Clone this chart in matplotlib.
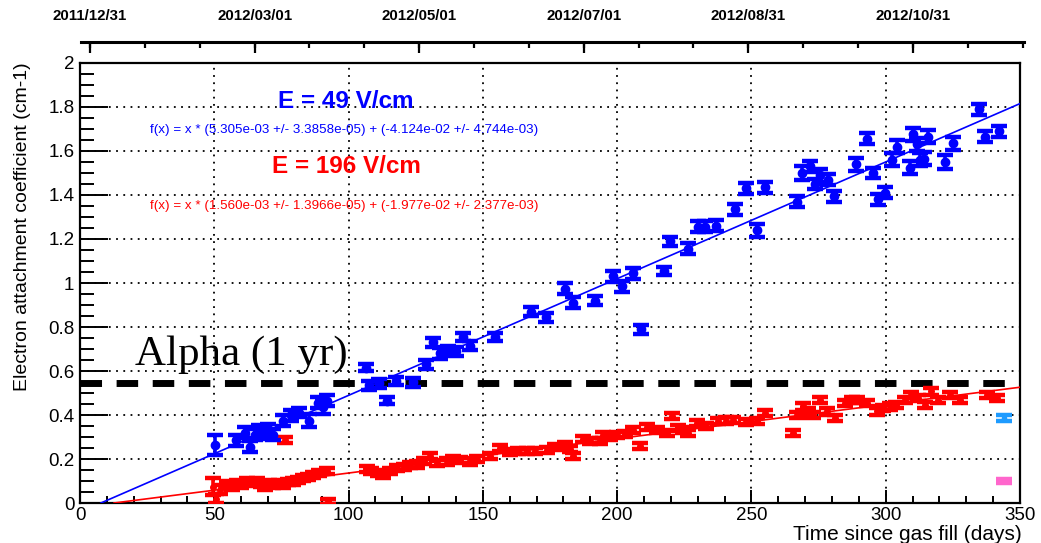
import numpy as np
import matplotlib.pyplot as plt
from matplotlib.ticker import MultipleLocator, FixedLocator

plt.rcParams['font.family'] = ['Liberation Sans', 'DejaVu Sans']

# E = 49 V/cm points: day, coefficient, error
blue_x = [50.3, 58.0, 61.5, 63.3, 65.0, 66.5, 68.5, 70.0, 71.8, 75.5, 78.5, 81.5,
          85.2, 88.5, 90.3, 91.8, 106.5, 107.5, 111.5, 114.2, 117.5, 124.0, 129.0,
          131.5, 134.0, 137.0, 140.0, 142.7, 145.2, 154.5, 167.8, 173.5, 180.6,
          183.4, 191.7, 198.6, 201.7, 205.8, 208.7, 217.4, 219.7, 226.5, 230.2,
          232.7, 236.8, 243.9, 247.9, 251.9, 255.0, 266.8, 268.7, 271.8, 273.6,
          275.5, 278.6, 280.7, 288.8, 292.9, 295.1, 297.2, 299.7, 302.2, 304.1,
          309.0, 310.0, 311.5, 312.7, 314.2, 315.8, 322.0, 325.1, 334.8, 336.9, 342.3]
blue_y = [0.265, 0.285, 0.32, 0.255, 0.31, 0.33, 0.315, 0.335, 0.31, 0.375, 0.40, 0.41,
          0.375, 0.455, 0.435, 0.465, 0.615, 0.535, 0.545, 0.465, 0.555, 0.548, 0.63,
          0.73, 0.68, 0.695, 0.69, 0.755, 0.715, 0.755, 0.87, 0.845, 0.975,
          0.91, 0.92, 1.03, 0.985, 1.045, 0.79, 1.055, 1.19, 1.155, 1.255,
          1.255, 1.26, 1.335, 1.43, 1.24, 1.435, 1.37, 1.50, 1.53, 1.45,
          1.49, 1.47, 1.395, 1.54, 1.655, 1.50, 1.38, 1.41, 1.56, 1.62,
          1.525, 1.675, 1.63, 1.56, 1.565, 1.665, 1.55, 1.635, 1.79, 1.665, 1.69]
blue_err = [0.045, 0.025, 0.025, 0.025, 0.025, 0.025, 0.025, 0.025, 0.025, 0.025, 0.025, 0.02,
            0.03, 0.025, 0.03, 0.025, 0.015, 0.02, 0.02, 0.015, 0.02, 0.02, 0.02,
            0.02, 0.025, 0.02, 0.02, 0.02, 0.02, 0.02, 0.02, 0.02, 0.025,
            0.025, 0.02, 0.025, 0.025, 0.025, 0.02, 0.02, 0.02, 0.025, 0.025,
            0.025, 0.025, 0.025, 0.025, 0.03, 0.025, 0.025, 0.03, 0.025, 0.025,
            0.03, 0.025, 0.025, 0.03, 0.025, 0.025, 0.025, 0.025, 0.03, 0.03,
            0.03, 0.03, 0.03, 0.03, 0.03, 0.03, 0.03, 0.03, 0.025, 0.025, 0.025]

# E = 196 V/cm points
red_x = [49.5, 50.5, 52.0, 54.6, 56.5, 58.3, 60.0, 62.0, 64.0, 65.8, 67.5, 68.9, 70.5,
         72.0, 74.0, 75.7, 76.3, 77.5, 79.4, 81.0, 83.1, 85.0, 86.9, 89.0, 91.8, 92.4,
         106.7, 108.5, 111.0, 113.0, 115.5, 118.0, 120.5, 123.0, 125.5, 128.0, 130.3,
         132.8, 136.5, 139.0, 141.5, 145.2, 148.0, 152.6, 156.4, 160.0, 163.0, 166.3,
         169.5, 173.7, 177.0, 180.6, 182.5, 183.7, 187.4, 190.0, 193.6, 194.8, 197.5,
         199.8, 203.0, 206.0, 208.5, 211.0, 215.0, 218.4, 220.3, 222.5, 224.6, 226.5,
         229.6, 233.0, 237.6, 240.5, 243.2, 248.0, 251.9, 255.0, 265.6, 266.8, 269.3,
         271.0, 273.0, 275.5, 278.0, 281.1, 285.0, 287.3, 289.2, 292.9, 296.6, 299.0,
         301.5, 304.0, 307.0, 309.6, 312.1, 314.6, 317.0, 319.5, 323.8, 327.6, 337.6, 341.3]
red_y = [0.075, 0.02, 0.06, 0.083, 0.075, 0.09, 0.08, 0.098, 0.09, 0.098, 0.085, 0.072, 0.09,
         0.083, 0.09, 0.08, 0.287, 0.095, 0.098, 0.105, 0.114, 0.12, 0.129, 0.135, 0.144, 0.007,
         0.155, 0.145, 0.135, 0.128, 0.145, 0.159, 0.165, 0.171, 0.175, 0.19, 0.212,
         0.182, 0.189, 0.20, 0.197, 0.189, 0.20, 0.212, 0.25, 0.23, 0.235, 0.235,
         0.235, 0.242, 0.255, 0.262, 0.245, 0.212, 0.29, 0.28, 0.28, 0.31, 0.30,
         0.31, 0.315, 0.333, 0.26, 0.345, 0.33, 0.318, 0.394, 0.34, 0.333, 0.318,
         0.364, 0.35, 0.371, 0.375, 0.379, 0.37, 0.371, 0.409, 0.32, 0.401, 0.439,
         0.42, 0.401, 0.47, 0.416, 0.386, 0.455, 0.47, 0.47, 0.455, 0.416, 0.43,
         0.439, 0.447, 0.47, 0.492, 0.477, 0.447, 0.507, 0.47, 0.492, 0.47, 0.492, 0.477]
red_err = [0.04, 0.02, 0.02, 0.016, 0.016, 0.016] + [0.014] * 19 + [0.01] + [0.014] * 78

# extra single points at the right edge
cyan_x, cyan_y, cyan_err = [344.1], [0.386], [0.012]
pink_x, pink_y, pink_err = [344.1], [0.101], [0.008]

# linear fits (slope, intercept)
blue_fit = (5.305e-03, -4.124e-02)
red_fit = (1.560e-03, -1.977e-02)
alpha_level = 0.545

date_labels = ['2011/12/31', '2012/03/01', '2012/05/01', '2012/07/01', '2012/08/31', '2012/10/31']
date_days = [0, 61, 122, 183, 244, 305]
day0, day_scale = 3.72, 1.0046   # top axis: day of 2011/12/31 on the bottom axis, stretch

W, H = 1041, 543
fig = plt.figure(figsize=(W / 100, H / 100), dpi=100)
ax = fig.add_axes([80 / W, 40 / H, 940 / W, 440 / H])
ax.set_xlim(0, 350)
ax.set_ylim(0, 2)

ax.grid(which='major', color='k', ls=(0, (1, 3)), lw=1.3)
ax.set_axisbelow(True)

ax.axhline(alpha_level, color='k', lw=5, ls=(0, (3.1, 2.1)), zorder=2)

for (m, b), c in [(blue_fit, 'blue'), (red_fit, 'red')]:
    xs = np.array([-b / m, 350])
    ax.plot(xs, m * xs + b, color=c, lw=1.2, zorder=3)

ekw = dict(fmt='o', elinewidth=2.6, capthick=3.2, capsize=6, zorder=4)
ax.errorbar(red_x, red_y, yerr=red_err, color='red', ms=4, **ekw)
ax.errorbar(blue_x, blue_y, yerr=blue_err, color='blue', ms=6, **ekw)
ax.errorbar(cyan_x, cyan_y, yerr=cyan_err, color='#1e9bff', ms=3, **ekw)
ax.errorbar(pink_x, pink_y, yerr=pink_err, color='#ff66cc', ms=2, **ekw)

ax.xaxis.set_major_locator(MultipleLocator(50))
ax.xaxis.set_minor_locator(MultipleLocator(10))
ax.yaxis.set_minor_locator(MultipleLocator(0.05))
ax.set_yticks(np.arange(0, 2.01, 0.2), ['0', '0.2', '0.4', '0.6', '0.8', '1', '1.2', '1.4', '1.6', '1.8', '2'])
ax.tick_params(axis='x', which='major', direction='in', length=9.5, width=1.4, labelsize=13.5, pad=3)
ax.tick_params(axis='x', which='minor', direction='in', length=4.7, width=1.4)
ax.tick_params(axis='y', which='major', direction='in', length=20, width=1.4, labelsize=13.5, pad=4)
ax.tick_params(axis='y', which='minor', direction='in', length=10, width=1.4)
for s in ax.spines.values():
    s.set_linewidth(1.6)

ax.text(0.283, 0.912, 'E = 49 V/cm', transform=ax.transAxes, color='blue',
        fontsize=17.5, fontweight='bold', ha='center', va='center')
ax.text(0.281, 0.848, 'f(x) = x * (5.305e-03 +/- 3.3858e-05) + (-4.124e-02 +/- 4.744e-03)',
        transform=ax.transAxes, color='blue', fontsize=9.6, ha='center', va='center')
ax.text(0.283, 0.764, 'E = 196 V/cm', transform=ax.transAxes, color='red',
        fontsize=17.5, fontweight='bold', ha='center', va='center')
ax.text(0.281, 0.676, 'f(x) = x * (1.560e-03 +/- 1.3966e-05) + (-1.977e-02 +/- 2.377e-03)',
        transform=ax.transAxes, color='red', fontsize=9.6, ha='center', va='center')
ax.text(20.5, 0.629, 'Alpha (1 yr)', family='Liberation Serif', fontsize=31,
        ha='left', va='baseline', zorder=5)

# date axis above the frame: line at y=42 px, ticks hanging down from it.
# two thin axes whose bottom ticks point up to the line (major 11 px, minor 6 px)
px_per_day = 940 / 350
tl, tr = 81, 1024
t_lim = [((p - 80) / px_per_day - day0) / day_scale for p in (tl, tr)]

axmaj = fig.add_axes([tl / W, 1 - 53 / H, (tr - tl) / W, 11 / H])
axmin = fig.add_axes([tl / W, 1 - 48 / H, (tr - tl) / W, 6 / H])
for a in (axmaj, axmin):
    a.set_xlim(t_lim)
    a.set_yticks([])
    a.patch.set_visible(False)
    for k in ['top', 'bottom', 'left', 'right']:
        a.spines[k].set_visible(False)
axmaj.spines['top'].set_visible(True)
axmaj.spines['top'].set_linewidth(2.2)
axmaj.set_xticks(date_days, date_labels, fontsize=10.8, fontweight='bold')
axmaj.tick_params(axis='x', bottom=True, top=False, labelbottom=False, labeltop=True,
                  direction='in', length=11 * 0.72, width=1.6, pad=13.5)
axmin.xaxis.set_major_locator(MultipleLocator(61 / 3))
axmin.tick_params(axis='x', bottom=True, top=False, labelbottom=False,
                  direction='in', length=6 * 0.72, width=1.6)

fig.text(23 / W, 1 - 62 / H, 'Electron attachment coefficient (cm-1)', rotation=90,
         ha='center', va='top', fontsize=14)
fig.text(1022 / W, 1 - 534 / H, 'Time since gas fill (days)', ha='right', va='center',
         fontsize=15)

fig.savefig('out.png', dpi=100)
